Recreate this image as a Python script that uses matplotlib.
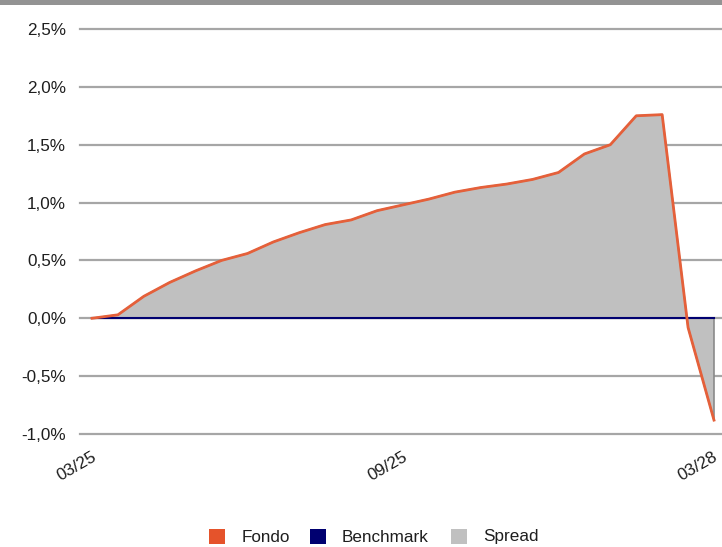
import numpy as np
from matplotlib import pyplot as plt
from matplotlib.patches import Rectangle
from matplotlib.transforms import offset_copy

# monthly cumulative performance (%)
fondo = [0.00, 0.03, 0.19, 0.31, 0.41, 0.50, 0.56, 0.66, 0.74, 0.81, 0.85, 0.93, 0.98,
         1.03, 1.09, 1.13, 1.16, 1.20, 1.26, 1.42, 1.50, 1.75, 1.76, -0.08, -0.88]
benchmark = [0.0] * len(fondo)
tick_pos = [0, 12, 24]
tick_labels = ["03/25", "09/25", "03/28"]
y_ticks = [-1.0, -0.5, 0.0, 0.5, 1.0, 1.5, 2.0, 2.5]

plt.rcParams['font.family'] = ['Liberation Sans', 'DejaVu Sans']
FS = 12.3
TXT = '#1e1e1e'

W, H = 722, 547
fig = plt.figure(figsize=(W / 100, H / 100), dpi=100)
ax = fig.add_axes([80 / W, (H - 434) / H, (722 - 80) / W, (434 - 29) / H])

x = np.arange(len(fondo))
f = np.array(fondo)
b = np.array(benchmark)

# grid
for yv in y_ticks:
    ax.axhline(yv, color='#a6a6a6', lw=1.6, zorder=0, clip_on=False)

# spread area
poly = np.concatenate([np.column_stack([x, f]), np.column_stack([x[::-1], b[::-1]])])
ax.fill(poly[:, 0], poly[:, 1], facecolor='#c0c0c0', edgecolor='#8a8a8a', lw=1.2, zorder=1)

ax.plot(x, b, color='#000070', lw=1.5, zorder=2)
ax.plot(x, f, color='#e5603a', lw=2.0, zorder=3)

ax.set_xlim(-0.463, 24.309)
ax.set_ylim(-1.0, 2.5)
for s in ax.spines.values():
    s.set_visible(False)

ax.set_yticks(y_ticks)
ax.set_yticklabels([("%.1f" % v).replace(".", ",") + "%" for v in y_ticks])
ax.tick_params(axis='y', length=0, pad=10, labelsize=FS, labelcolor=TXT)
ax.set_xticks([])

# rotated date labels
trans = offset_copy(ax.get_xaxis_transform(), fig=fig, x=-1, y=-15, units='dots')
for p, lab in zip(tick_pos, tick_labels):
    ax.text(p, 0, lab, transform=trans, rotation=30, ha='right', va='top',
            rotation_mode='anchor', fontsize=FS, color=TXT)

# top band
fig.patches.append(Rectangle((0, 1 - 5 / H), 1, 5 / H, transform=fig.transFigure,
                             facecolor='#939393', edgecolor='none'))

# legend
leg_items = [("Fondo", '#e5532b', 209, 242), ("Benchmark", '#000070', 310, 342),
             ("Spread", '#c0c0c0', 451, 483)]
for name, col, sx, tx in leg_items:
    fig.patches.append(Rectangle((sx / W, 1 - 544 / H), 16 / W, 15 / H,
                                 transform=fig.transFigure, facecolor=col, edgecolor='none'))
    fig.text(tx / W, 1 - 537 / H, name, fontsize=FS, color=TXT, va='center', ha='left')

fig.savefig("out.png", dpi=100)
